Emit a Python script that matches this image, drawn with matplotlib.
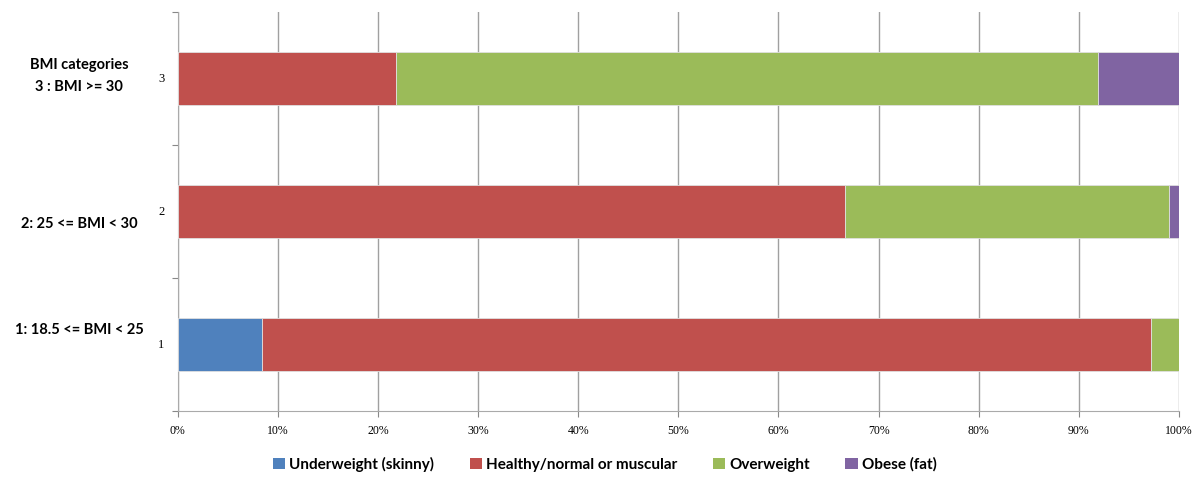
import numpy as np
import matplotlib.pyplot as plt
from matplotlib.patches import Patch

# BMI category rows (bottom to top) and the share of each self-perception
categories = ['1', '2', '3']
row_labels = ['1: 18.5 <= BMI < 25', '2: 25 <= BMI < 30', 'BMI categories\n3 : BMI >= 30']
series = ['Underweight (skinny)', 'Healthy/normal or muscular', 'Overweight', 'Obese (fat)']
underweight = [8.4, 0.0, 0.0]
healthy = [88.8, 66.6, 21.8]
overweight = [2.8, 32.4, 70.1]
obese = [0.0, 1.0, 8.1]
colors = ['#4F81BD', '#C0504D', '#9BBB59', '#8064A2']

fig = plt.figure(figsize=(12, 4.83), dpi=100)
ax = fig.add_axes([0.148, 0.149, 0.8345, 0.826])

y = np.arange(1, len(categories) + 1)
left = np.zeros(len(categories))
for vals, col in zip([underweight, healthy, overweight, obese], colors):
    ax.barh(y, vals, left=left, height=0.4, color=col, edgecolor='#e0e0e0', linewidth=0.6, zorder=3)
    left += np.array(vals)

ax.set_xlim(0, 100)
ax.set_ylim(0.5, 3.5)
ax.set_xticks(np.arange(0, 101, 10))
ax.set_xticklabels(['{}%'.format(v) for v in range(0, 101, 10)], family='Liberation Serif', fontsize=8.5)
ax.set_yticks([0.5, 1.5, 2.5, 3.5])
ax.set_yticklabels([])
ax.tick_params(axis='y', length=4, color='#888888', direction='out')
ax.tick_params(axis='x', length=4, color='#888888', direction='out', pad=6)
for yy, c in zip(y, categories):
    ax.text(-1.3, yy, c, ha='right', va='center', family='Liberation Serif', fontsize=9)

ax.grid(axis='x', color='#a0a0a0', linewidth=1, zorder=0)
for s in ['top', 'right']:
    ax.spines[s].set_visible(False)
ax.spines['left'].set_color('#aaaaaa')
ax.spines['bottom'].set_color('#aaaaaa')

# bold row descriptions left of the axis
fig.text(0.066, 1 - 76 / 483, row_labels[2], ha='center', va='center', family='Lato',
         fontweight='bold', fontsize=10.5, linespacing=1.65)
fig.text(0.066, 1 - 224 / 483, row_labels[1], ha='center', va='center', family='Lato',
         fontweight='bold', fontsize=10.5)
fig.text(0.066, 1 - 330 / 483, row_labels[0], ha='center', va='center', family='Lato',
         fontweight='bold', fontsize=10.5)

handles = [Patch(facecolor=c, edgecolor='none') for c in colors]
fig.legend(handles, series, loc='center', bbox_to_anchor=(0.504, 0.039), ncol=4, frameon=False,
           prop={'family': 'Lato', 'weight': 'bold', 'size': 11},
           handlelength=0.8, handleheight=0.8, handletextpad=0.3, columnspacing=2.3)

fig.savefig('out.png', dpi=100)
